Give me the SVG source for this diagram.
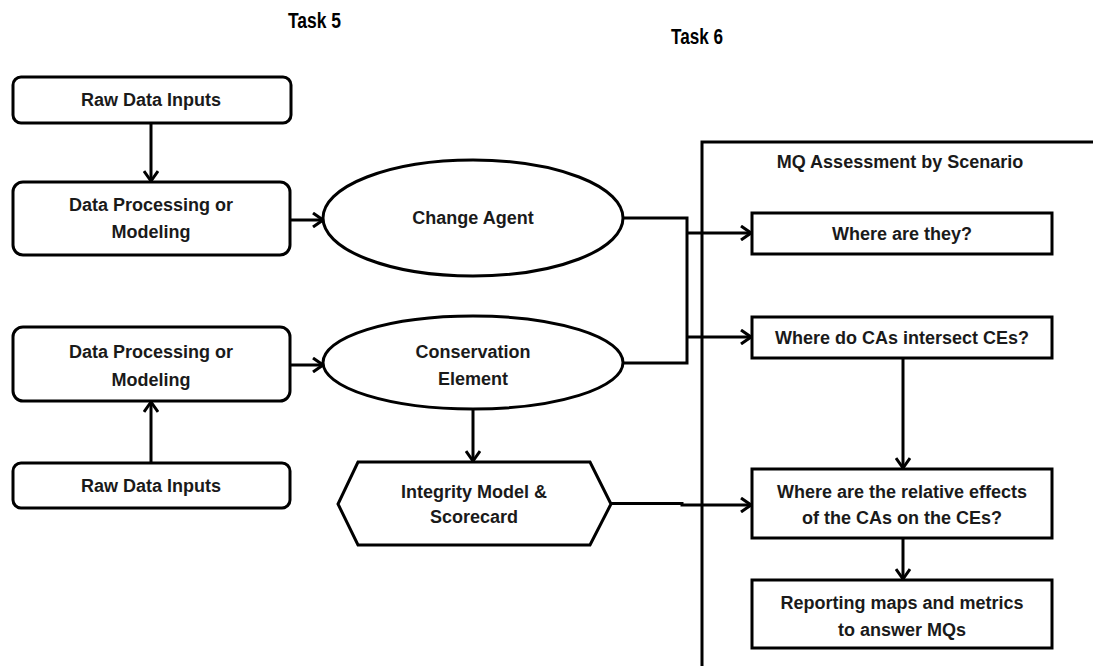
<svg xmlns="http://www.w3.org/2000/svg" width="1093" height="666" viewBox="0 0 1093 666">
  <style>
    .box { fill: #ffffff; stroke: #000000; stroke-width: 3; }
    .lbl { font-family: "Liberation Sans", Arial, sans-serif; font-weight: bold; font-size: 18px; fill: #1a1a1a; text-anchor: middle; }
    .title { font-family: "Liberation Sans", Arial, sans-serif; font-weight: bold; font-size: 22px; fill: #000000; }
    .wire { fill: none; stroke: #000000; stroke-width: 3; }
  </style>
  <defs>
    <marker id="arrow" viewBox="0 0 12 16" refX="11" refY="8" markerWidth="12" markerHeight="16" markerUnits="userSpaceOnUse" orient="auto">
      <path d="M1,1 L11,8 L1,15" fill="none" stroke="#000000" stroke-width="3" stroke-linejoin="miter"/>
    </marker>
  </defs>

  <rect width="1093" height="666" fill="#ffffff"/>

  <!-- Section titles -->
  <text class="title" x="288" y="28" textLength="53" lengthAdjust="spacingAndGlyphs">Task 5</text>
  <text class="title" x="671" y="44" textLength="52" lengthAdjust="spacingAndGlyphs">Task 6</text>

  <!-- Task 6 frame -->
  <g id="mq-frame">
    <path class="wire" d="M702,666 L702,142 L1093,142"/>
    <text class="lbl" x="900" y="168">MQ Assessment by Scenario</text>
  </g>

  <g id="raw-data-1">
    <rect class="box" x="13" y="77" width="278" height="46" rx="8"/>
    <text class="lbl" x="151" y="106">Raw Data Inputs</text>
  </g>

  <g id="processing-1">
    <rect class="box" x="13" y="182" width="277" height="73" rx="10"/>
    <text class="lbl" x="151" y="211">Data Processing or</text>
    <text class="lbl" x="151" y="238">Modeling</text>
  </g>

  <g id="change-agent">
    <ellipse class="box" cx="473" cy="218" rx="150" ry="58"/>
    <text class="lbl" x="473" y="224">Change Agent</text>
  </g>

  <g id="processing-2">
    <rect class="box" x="13" y="327" width="277" height="74" rx="10"/>
    <text class="lbl" x="151" y="358">Data Processing or</text>
    <text class="lbl" x="151" y="386">Modeling</text>
  </g>

  <g id="raw-data-2">
    <rect class="box" x="13" y="463" width="277" height="45" rx="8"/>
    <text class="lbl" x="151" y="492">Raw Data Inputs</text>
  </g>

  <g id="conservation-element">
    <ellipse class="box" cx="473" cy="362.5" rx="150" ry="46.5"/>
    <text class="lbl" x="473" y="358">Conservation</text>
    <text class="lbl" x="473" y="385">Element</text>
  </g>

  <g id="integrity-model">
    <polygon class="box" points="358,462 590,462 611,504 590,545 358,545 338,504"/>
    <text class="lbl" x="474" y="498">Integrity Model &amp;</text>
    <text class="lbl" x="474" y="523">Scorecard</text>
  </g>

  <g id="where-are-they">
    <rect class="box" x="752" y="213" width="300" height="41"/>
    <text class="lbl" x="902" y="240">Where are they?</text>
  </g>

  <g id="where-intersect">
    <rect class="box" x="752" y="317" width="300" height="41"/>
    <text class="lbl" x="902" y="344">Where do CAs intersect CEs?</text>
  </g>

  <g id="relative-effects">
    <rect class="box" x="752" y="469" width="300" height="69"/>
    <text class="lbl" x="902" y="498">Where are the relative effects</text>
    <text class="lbl" x="902" y="524">of the CAs on the CEs?</text>
  </g>

  <g id="reporting">
    <rect class="box" x="752" y="580" width="300" height="68"/>
    <text class="lbl" x="902" y="609">Reporting maps and metrics</text>
    <text class="lbl" x="902" y="636">to answer MQs</text>
  </g>

  <g id="connectors">
    <line class="wire" x1="151" y1="123" x2="151" y2="181" marker-end="url(#arrow)"/>
    <line class="wire" x1="290" y1="220" x2="323" y2="220" marker-end="url(#arrow)"/>
    <line class="wire" x1="151" y1="463" x2="151" y2="402" marker-end="url(#arrow)"/>
    <line class="wire" x1="290" y1="365" x2="323" y2="365" marker-end="url(#arrow)"/>
    <!-- merge of both agents into the assessment boxes -->
    <path class="wire" d="M623,218 L687,218 L687,363 L623,363"/>
    <line class="wire" x1="687" y1="233" x2="751" y2="233" marker-end="url(#arrow)"/>
    <line class="wire" x1="687" y1="337" x2="751" y2="337" marker-end="url(#arrow)"/>
    <line class="wire" x1="473" y1="409" x2="473" y2="461" marker-end="url(#arrow)"/>
    <path class="wire" d="M611,503.5 L682,503.5 L682,505 L751,505" marker-end="url(#arrow)"/>
    <line class="wire" x1="903" y1="358" x2="903" y2="468" marker-end="url(#arrow)"/>
    <line class="wire" x1="903" y1="538" x2="903" y2="579" marker-end="url(#arrow)"/>
  </g>
</svg>
